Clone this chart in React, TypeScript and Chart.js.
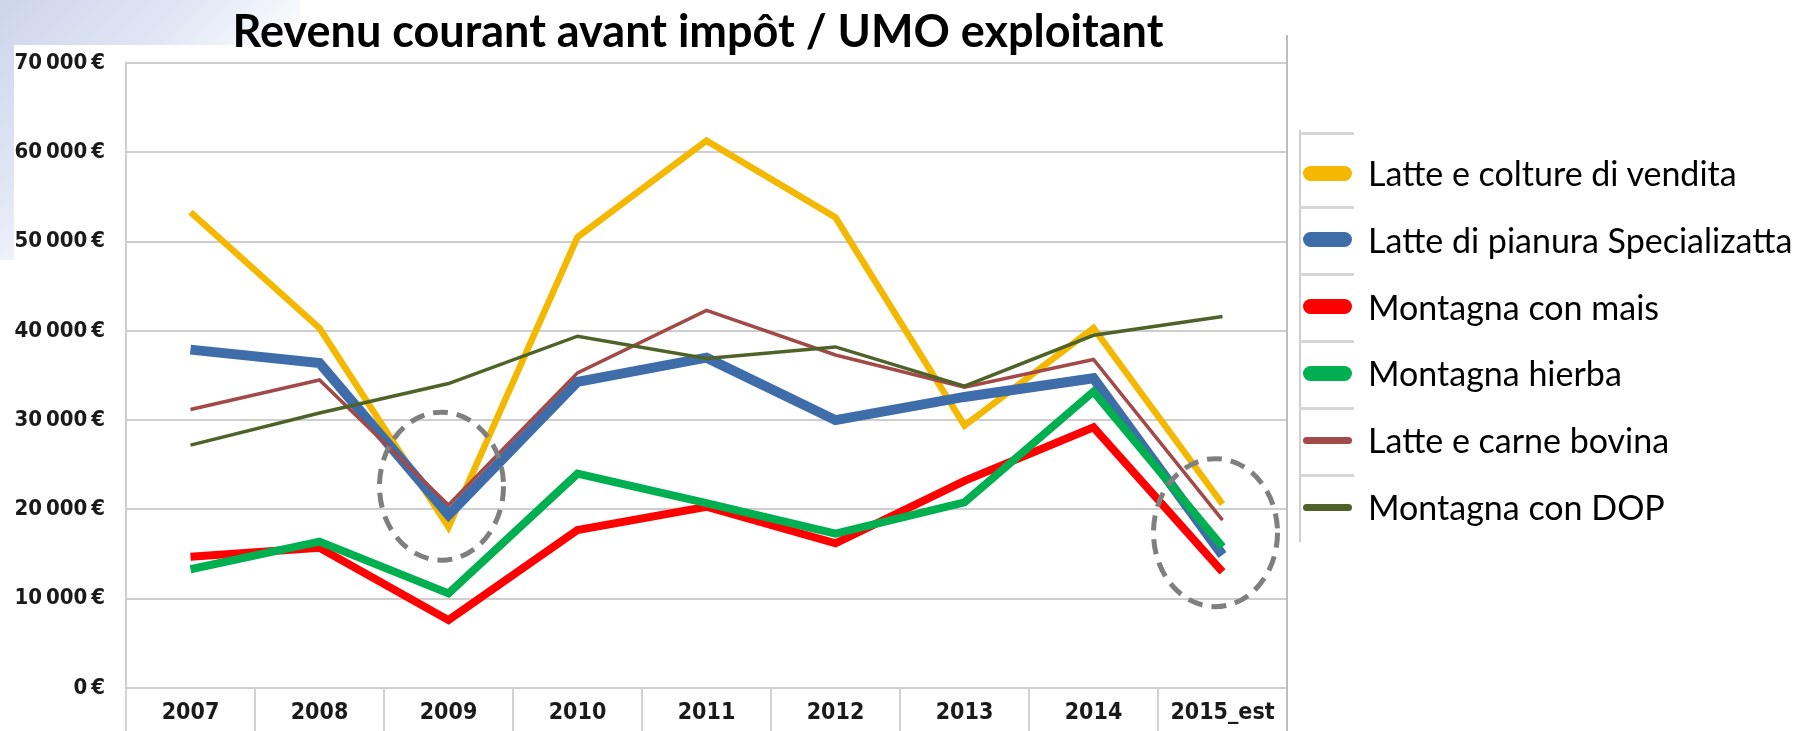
import React, { useEffect, useRef } from 'react';
import { Chart, registerables } from 'chart.js';

Chart.register(...registerables);

// ---------- data ----------
const title = 'Revenu courant avant impôt / UMO exploitant';
const categories = ['2007', '2008', '2009', '2010', '2011', '2012', '2013', '2014', '2015_est'];
const yTickValues = [0, 10000, 20000, 30000, 40000, 50000, 60000, 70000];

const seriesNames = [
  'Latte e colture di vendita',
  'Latte di pianura Specializatta',
  'Montagna con mais',
  'Montagna hierba',
  'Latte e carne bovina',
  'Montagna con DOP',
];

const latteColture = [53300, 40300, 18000, 50500, 61300, 52700, 29400, 40300, 20600];
const lattePianura = [37900, 36400, 19400, 34300, 37000, 30000, 32600, 34700, 14900];
const montagnaMais = [14700, 15700, 7600, 17700, 20300, 16200, 23200, 29200, 13000];
const montagnaHierba = [13300, 16400, 10600, 24000, 20700, 17300, 20800, 33200, 15800];
const latteCarne = [31200, 34500, 20500, 35300, 42300, 37300, 33700, 36800, 18800];
const montagnaDop = [27200, 30800, 34100, 39400, 36900, 38200, 33800, 39500, 41600];

const seriesValues = [latteColture, lattePianura, montagnaMais, montagnaHierba, latteCarne, montagnaDop];

// highlighted zones (category + value at centre)
const highlightCategories = ['2009', '2015_est'];
const highlightValues = [22600, 17400];

// ---------- styles ----------
const seriesColors = ['#F5B800', '#3F6DAA', '#FF0000', '#00B050', '#A24A48', '#4F6228'];
const seriesWidths = [6.5, 10, 8, 8, 3.5, 3.5];
const seriesOrder = [6, 5, 4, 3, 2, 1];
const swatchHeights = [15, 15, 15, 15, 7, 7];

const TICK_FONT = "'DejaVu Sans Condensed', 'Liberation Sans Narrow', Roboto, sans-serif";
const TEXT_FONT = "Lato, 'Open Sans', 'Noto Sans', sans-serif";

const W = 1809;
const H = 731;
const PLOT_LEFT = 126;
const PLOT_RIGHT = 1287;
const PLOT_TOP = 63;
const PLOT_BOTTOM = 688;

function fmtEuro(v: number): string {
  const s = String(Math.round(v)).replace(/\B(?=(\d{3})+(?!\d))/g, '\u2009');
  return s + '\u2009€';
}

const decorPlugin = {
  id: 'decor',
  beforeDatasetsDraw(chart: any) {
    const { ctx, chartArea, scales } = chart;
    const xs = scales.x;
    const n = categories.length;
    const step = xs.getPixelForValue(1) - xs.getPixelForValue(0);
    ctx.save();
    ctx.strokeStyle = '#d2d2d2';
    ctx.lineWidth = 2;
    for (let i = 0; i <= n; i++) {
      const x = xs.getPixelForValue(0) - step / 2 + i * step;
      ctx.beginPath();
      ctx.moveTo(x, chartArea.bottom);
      ctx.lineTo(x, chart.height);
      ctx.stroke();
    }
    ctx.strokeStyle = '#bdbdbd';
    ctx.beginPath();
    ctx.moveTo(chartArea.right, chartArea.top - 28);
    ctx.lineTo(chartArea.right, chart.height);
    ctx.stroke();
    ctx.restore();
  },
  afterDatasetsDraw(chart: any) {
    const { ctx, scales } = chart;
    const xs = scales.x;
    const ys = scales.y;
    ctx.save();
    ctx.strokeStyle = '#7f7f7f';
    ctx.lineWidth = 5;
    ctx.setLineDash([15, 9]);
    highlightCategories.forEach((c, i) => {
      const idx = categories.indexOf(c);
      const cx = xs.getPixelForValue(idx) - 7;
      const cy = ys.getPixelForValue(highlightValues[i]);
      ctx.beginPath();
      ctx.ellipse(cx, cy, 62, 74, 0, 0, Math.PI * 2);
      ctx.stroke();
    });
    ctx.restore();
  },
};

export default function App() {
  const ref = useRef<HTMLCanvasElement>(null);

  useEffect(() => {
    document.body.style.margin = '0';
    const canvas = ref.current;
    if (!canvas) return;
    const chart = new Chart(canvas, {
      type: 'line',
      data: {
        labels: categories,
        datasets: seriesNames.map((name, i) => ({
          label: name,
          data: seriesValues[i],
          borderColor: seriesColors[i],
          backgroundColor: seriesColors[i],
          borderWidth: seriesWidths[i],
          pointRadius: 0,
          pointHoverRadius: 0,
          tension: 0,
          fill: false,
          order: seriesOrder[i],
          borderJoinStyle: 'miter' as const,
          borderCapStyle: 'butt' as const,
        })),
      },
      options: {
        responsive: false,
        animation: false,
        devicePixelRatio: 1,
        layout: { padding: { top: PLOT_TOP, right: W - PLOT_RIGHT, bottom: 0, left: 0 } },
        plugins: {
          legend: { display: false },
          title: { display: false },
          tooltip: { enabled: false },
        },
        scales: {
          x: {
            type: 'category',
            offset: true,
            grid: { display: false, drawTicks: false },
            border: { display: false },
            ticks: {
              color: '#1a1a1a',
              font: { family: TICK_FONT, size: 23, weight: 'bold' },
              padding: 11,
              maxRotation: 0,
              autoSkip: false,
            },
            afterFit: (s: any) => {
              s.height = H - PLOT_BOTTOM;
            },
          },
          y: {
            min: 0,
            max: 70000,
            afterBuildTicks: (s: any) => {
              s.ticks = yTickValues.map((v) => ({ value: v }));
            },
            ticks: {
              color: '#1a1a1a',
              font: { family: TICK_FONT, size: 22, weight: 'bold' },
              padding: 21,
              callback: (v: any) => fmtEuro(Number(v)),
            },
            grid: { color: '#cecece', lineWidth: 2, drawTicks: false },
            border: { display: true, color: '#cecece', width: 2 },
            afterFit: (s: any) => {
              s.width = PLOT_LEFT;
            },
          },
        },
      },
      plugins: [decorPlugin],
    });
    return () => chart.destroy();
  }, []);

  const legendTop = 173;
  const legendStep = 66.8;

  return (
    <div style={{ position: 'relative', width: W, height: H, overflow: 'hidden', background: '#ffffff' }}>
      <div
        style={{
          position: 'absolute',
          left: 0,
          top: 0,
          width: 300,
          height: 260,
          background: 'linear-gradient(135deg, #cdd5ec 0%, #e0e6f4 35%, rgba(255,255,255,0) 62%)',
        }}
      />
      <div style={{ position: 'absolute', left: 14, top: 45, width: 400, height: 400, background: '#ffffff' }} />
      <canvas ref={ref} width={W} height={H} style={{ position: 'absolute', left: 0, top: 0 }} />
      <div
        style={{
          position: 'absolute',
          left: 698 - 600,
          width: 1200,
          top: 8,
          textAlign: 'center',
          fontFamily: TEXT_FONT,
          fontWeight: 700,
          fontSize: 45,
          lineHeight: '44px',
          color: '#000',
          whiteSpace: 'nowrap',
        }}
      >
        {title}
      </div>
      {/* legend */}
      <div
        style={{
          position: 'absolute',
          left: 1299,
          top: 130,
          width: 2,
          height: 412,
          background: '#cfcfcf',
        }}
      />
      {seriesNames.map((name, i) => {
        const cy = legendTop + i * legendStep;
        return (
          <React.Fragment key={name}>
            <div
              style={{
                position: 'absolute',
                left: 1300,
                top: Math.round(cy - legendStep / 2 - (i === 0 ? 8 : 0)),
                width: 54,
                height: 3,
                background: '#d6d6d6',
              }}
            />
            <div
              style={{
                position: 'absolute',
                left: 1303,
                top: cy - swatchHeights[i] / 2,
                width: 49,
                height: swatchHeights[i],
                borderRadius: 8,
                background: seriesColors[i],
              }}
            />
            <div
              style={{
                position: 'absolute',
                left: 1368,
                top: cy - 22,
                height: 44,
                lineHeight: '44px',
                fontFamily: TEXT_FONT,
                fontSize: 34,
                color: '#000',
                whiteSpace: 'nowrap',
              }}
            >
              {name}
            </div>
          </React.Fragment>
        );
      })}
    </div>
  );
}
